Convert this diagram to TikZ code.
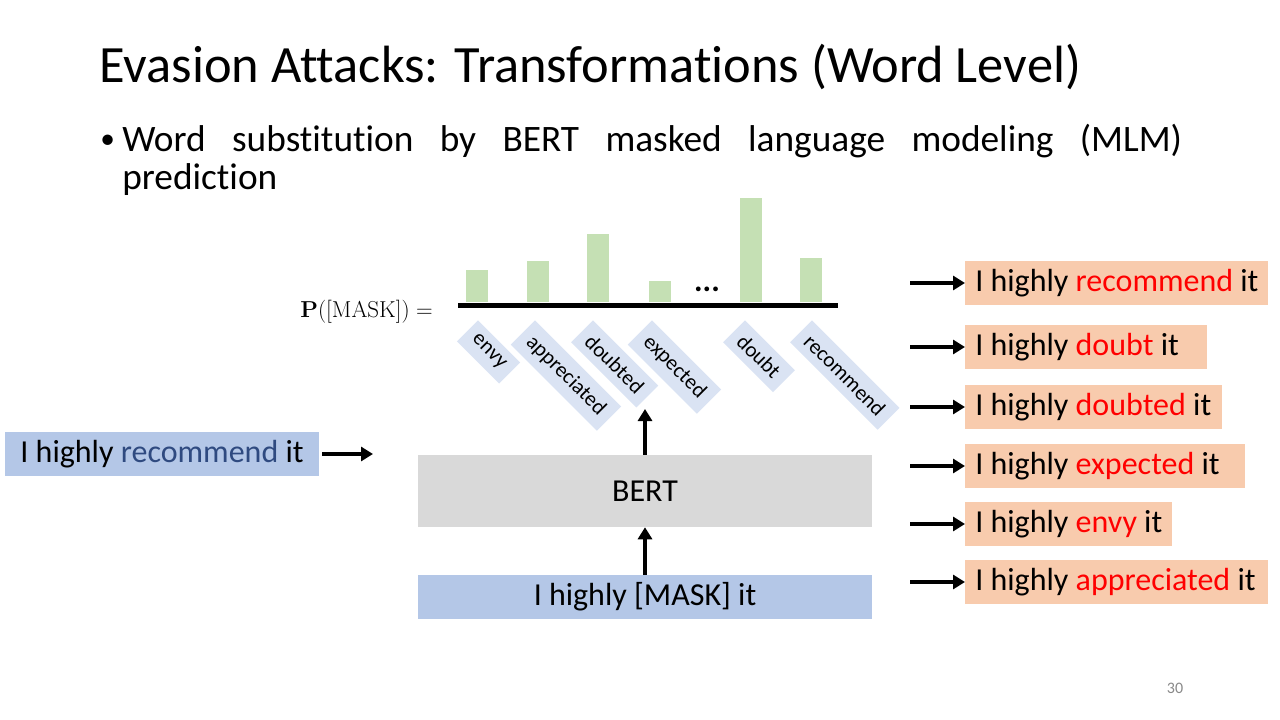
\documentclass[tikz,border=0pt]{standalone}
\usepackage[no-math]{fontspec}
\setmainfont{Carlito}[Ligatures={NoCommon}]
\usetikzlibrary{arrows.meta,positioning}
\definecolor{barGreen}{HTML}{C5E0B4}
\definecolor{tagBlue}{HTML}{DAE3F3}
\definecolor{bertGray}{HTML}{D9D9D9}
\definecolor{inBlue}{HTML}{B4C7E7}
\definecolor{outOrange}{HTML}{F8CBAD}
\definecolor{subRed}{HTML}{FF0000}
\definecolor{origNavy}{HTML}{2F4A80}
\definecolor{pageGray}{HTML}{898989}

\begin{document}
\begin{tikzpicture}[x=0.75pt, y=-0.75pt,
    thickarrow/.style={line width=3pt, -{Triangle[length=9pt,width=10.5pt]}},
    tagbox/.style={fill=tagBlue, rotate=-45, anchor=north west, inner xsep=7pt, inner ysep=6pt, font=\fontsize{16}{18}\selectfont},
    bar/.style={fill=barGreen},
    sentbox/.style={inner sep=0pt, minimum height=33pt, font=\fontsize{24}{28}\selectfont},
    outbox/.style={sentbox, fill=outOrange, anchor=west, inner xsep=7.5pt}]
    \useasboundingbox[fill=white] (0,0) rectangle (1280,720);
    % heading
    \node[anchor=base west, inner sep=0pt, font=\fontsize{39.3}{48}\selectfont] (title) at (99,83) {Evasion Attacks: Transformations (Word Level)};
    \node[anchor=base west, inner sep=0pt, font=\fontsize{22}{29}\selectfont] (dot) at (100,149) {•};
    \node[anchor=north west, inner sep=0pt, text width=795pt, align=justify, font=\fontsize{28}{28.5}\selectfont] (bullet) at (122,124)
        {\tolerance=9999 Word substitution by BERT masked language modeling (MLM) \mbox{prediction}};
    % distribution
    \node[anchor=east, inner sep=0pt, font=\fontsize{18}{20}\selectfont] (pmask) at (433,312) {$\mathbf{P}([\mathrm{MASK}]) =$};
    \foreach \bx/\btop/\tx/\word [count=\i] in {466/270/478/envy, 527/261/535/appreciated, 587/234/593/doubted, 649/281/652/expected, 740/198/745/doubt, 800/258/812/recommend}{
        \fill[bar] (\bx,\btop) rectangle (\bx+22,302);
        \node[tagbox] (tag\i) at (\tx,320) {\word};
    }
    \draw[line width=3.75pt] (458,305) -- (838,305);
    \node[inner sep=0pt, font=\fontsize{24}{28}\selectfont\bfseries] (dots) at (707,289) {...};
    % model
    \node[sentbox, fill=bertGray, minimum width=340.5pt, minimum height=54pt] (bert) at (645,491) {BERT};
    \node[sentbox, fill=inBlue, minimum width=340.5pt] (masked) at (645,597) {I highly [MASK] it};
    \node[sentbox, fill=inBlue, minimum width=235.5pt] (orig) at (162,454) {I highly \textcolor{origNavy}{recommend} it};
    \coordinate (tagtip) at (645,409);
    \coordinate (bertin) at (373,454);
    \draw[thickarrow] (bert.north) -- (tagtip);
    \draw[thickarrow] (masked.north) -- (bert.south);
    \draw[thickarrow] (orig.east) ++(3,0) -- (bertin);
    % candidates
    \foreach \y/\word/\r [count=\i, evaluate=\r as \tw using (\r-965)*0.75-15] in {283/recommend/1268, 347/doubt/1207, 407/doubted/1222, 466/expected/1245, 524/envy/1172, 582/appreciated/1268}{
        \node[outbox] (out\i) at (965,\y) {\makebox[\tw pt][l]{I highly \textcolor{subRed}{\word} it}};
        \coordinate (src\i) at (910,\y);
        \draw[thickarrow] (src\i) -- (out\i.west);
    }
    \node[text=pageGray, inner sep=0pt, font=\fontsize{12}{14}\selectfont] (pnum) at (1175,688) {30};
\end{tikzpicture}
\end{document}
